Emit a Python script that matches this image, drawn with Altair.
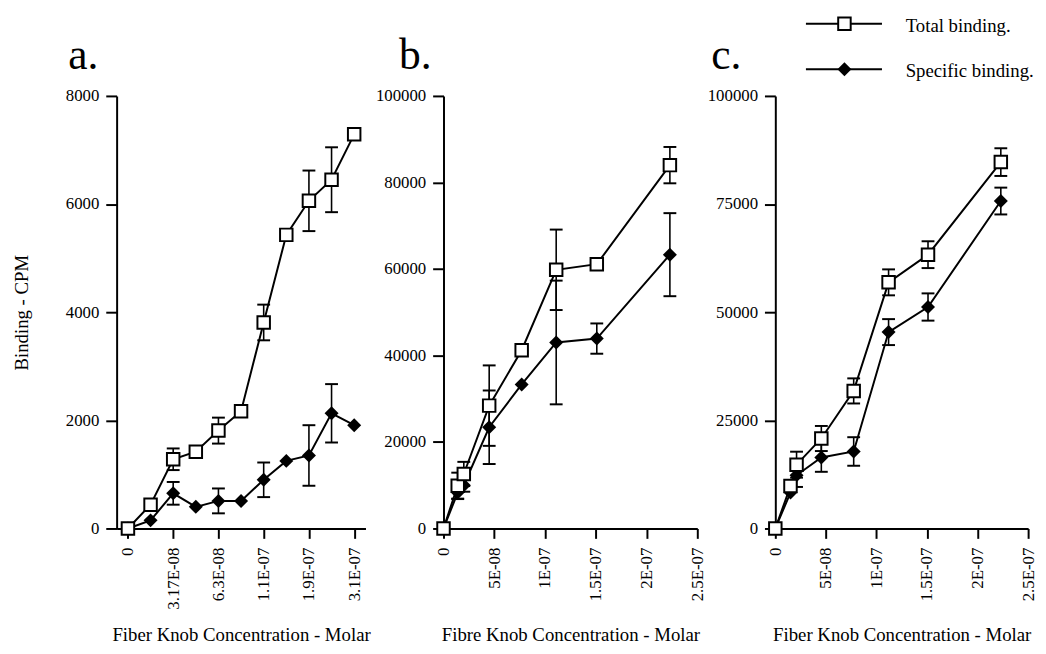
import altair as alt
import pandas as pd

FONT = "Liberation Serif"

# ---------------- data ----------------
series_names = ["Total binding.", "Specific binding."]

# Panel a: categorical concentration steps (every other one labelled)
a_conc = ["0", "1.5E-08", "3.17E-08", "4.7E-08", "6.3E-08", "8.5E-08",
          "1.1E-07", "1.5E-07", "1.9E-07", "2.5E-07", "3.1E-07"]
a_tick_labels = ["0", "3.17E-08", "6.3E-08", "1.1E-07", "1.9E-07", "3.1E-07"]
a_total = [0, 440, 1280, 1420, 1810, 2170, 3810, 5430, 6060, 6450, 7290]
a_total_err = [0, 0, 200, 0, 240, 0, 330, 0, 560, 600, 0]
a_spec = [0, 150, 650, 400, 510, 510, 900, 1250, 1350, 2130, 1910]
a_spec_err = [0, 0, 210, 0, 230, 0, 320, 0, 560, 540, 0]
a_yticks = [0, 2000, 4000, 6000, 8000]

# Panel b
b_conc = [0, 1.4e-8, 2.0e-8, 4.5e-8, 7.7e-8, 1.11e-7, 1.51e-7, 2.23e-7]
b_total = [0, 9900, 12600, 28400, 41200, 59800, 61100, 84000]
b_total_err = [0, 3000, 2800, 9300, 0, 9300, 0, 4200]
b_spec = [0, 8300, 10000, 23400, 33300, 43000, 43900, 63300]
b_spec_err = [0, 1500, 1500, 8500, 0, 14300, 3500, 9600]
b_yticks = [0, 20000, 40000, 60000, 80000, 100000]

# Panel c
c_conc = [0, 1.5e-8, 2.1e-8, 4.55e-8, 7.75e-8, 1.12e-7, 1.51e-7, 2.23e-7]
c_total = [0, 9800, 14750, 20800, 31800, 56900, 63300, 84700]
c_total_err = [0, 0, 3000, 2900, 2900, 3000, 3100, 3200]
c_spec = [0, 8300, 12300, 16400, 17800, 45400, 51200, 75700]
c_spec_err = [0, 0, 2700, 3300, 3300, 3000, 3150, 3100]
c_yticks = [0, 25000, 50000, 75000, 100000]

bc_xticks = [0, 5e-8, 1e-7, 1.5e-7, 2e-7, 2.5e-7]
bc_xlabels = ["0", "5E-08", "1E-07", "1.5E-07", "2E-07", "2.5E-07"]

panel_letters = ["a.", "b.", "c."]
x_titles = ["Fiber Knob Concentration - Molar",
            "Fibre Knob Concentration - Molar",
            "Fiber Knob Concentration - Molar"]
y_title = "Binding - CPM"


def make_df(conc, total, total_err, spec, spec_err):
    rows = []
    for name, vals, errs in ((series_names[0], total, total_err),
                             (series_names[1], spec, spec_err)):
        for i, (x, v, e) in enumerate(zip(conc, vals, errs)):
            rows.append(dict(i=i, x=x, y=v, err=e, lo=v - e, hi=v + e, series=name))
    return pd.DataFrame(rows)


H = 438


def panel(df, x_enc_fn, ydomain, yticks, width, letter, letter_dx, show_ytitle, legend=False):
    yaxis = alt.Axis(values=yticks, format="d", labelFontSize=17, tickSize=11,
                     labelPadding=7, title=y_title if show_ytitle else None,
                     titleFontSize=19, titleX=-96, titleBaseline="middle",
                     labelOverlap=False)
    yscale = alt.Scale(domain=ydomain, nice=False, zero=True)

    def Y(field):
        return alt.Y(field, type="quantitative", scale=yscale, axis=yaxis)

    base = alt.Chart(df)
    errs = base.transform_filter("datum.err > 0")
    line = base.mark_line(color="black", strokeWidth=2).encode(
        x=x_enc_fn(), y=Y("y"), detail="series:N", order="i:Q")
    rules = errs.mark_rule(color="black", strokeWidth=1.6).encode(
        x=x_enc_fn(), y=Y("lo"), y2="hi:Q")
    cap_lo = errs.mark_tick(orient="horizontal", color="black", size=13,
                            thickness=2, opacity=1).encode(x=x_enc_fn(), y=Y("lo"))
    cap_hi = errs.mark_tick(orient="horizontal", color="black", size=13,
                            thickness=2, opacity=1).encode(x=x_enc_fn(), y=Y("hi"))
    diamonds = base.transform_filter(
        alt.datum.series == series_names[1]).mark_point(
        shape="diamond", filled=True, color="black", size=200, opacity=1).encode(
        x=x_enc_fn(), y=Y("y"))
    squares = base.transform_filter(
        alt.datum.series == series_names[0]).mark_point(
        shape="square", filled=True, fill="white", stroke="black", strokeWidth=2,
        size=160, opacity=1).encode(x=x_enc_fn(), y=Y("y"))
    letter_txt = alt.Chart(pd.DataFrame({"t": [letter]})).mark_text(
        font=FONT, fontSize=44, align="left", baseline="alphabetic", color="black").encode(
        text="t:N", x=alt.value(letter_dx), y=alt.value(-27))

    layers = [line, rules, cap_lo, cap_hi, diamonds, squares, letter_txt]

    if legend:
        rows_y = [-73, -27]
        for k, name in enumerate(series_names):
            ldf = pd.DataFrame({"t": [name]})
            lb = alt.Chart(ldf)
            layers.append(lb.mark_rule(color="black", strokeWidth=2).encode(
                x=alt.value(31), x2=alt.value(108), y=alt.value(rows_y[k])))
            if k == 0:
                layers.append(lb.mark_point(shape="square", filled=True, fill="white",
                                            stroke="black", strokeWidth=2, size=160,
                                            opacity=1).encode(
                    x=alt.value(70), y=alt.value(rows_y[k])))
            else:
                layers.append(lb.mark_point(shape="diamond", filled=True, color="black",
                                            size=200, opacity=1).encode(
                    x=alt.value(70), y=alt.value(rows_y[k])))
            layers.append(lb.mark_text(font=FONT, fontSize=19, align="left",
                                       baseline="middle", color="black").encode(
                text="t:N", x=alt.value(132), y=alt.value(rows_y[k] + 2)))

    return alt.layer(*layers).properties(width=width, height=H)


def xaxis(title, **kw):
    return alt.Axis(title=title, labelAngle=-90, labelFontSize=17, tickSize=10,
                    labelPadding=9, titleFontSize=19, titleY=107,
                    titleBaseline="middle", labelOverlap=False, labelFlush=False, **kw)


def a_x():
    return alt.X("x:O", sort=a_conc,
                 scale=alt.Scale(type="point", padding=0.5),
                 axis=xaxis(x_titles[0], values=a_tick_labels))


label_expr = "[" + ",".join("'%s'" % s for s in bc_xlabels) + "][round(datum.value / 5e-8)]"


def bc_x(title):
    def f():
        return alt.X("x:Q", scale=alt.Scale(domain=[0, 2.5e-7], nice=False),
                     axis=xaxis(title, values=bc_xticks, labelExpr=label_expr))
    return f


pa = panel(make_df(a_conc, a_total, a_total_err, a_spec, a_spec_err),
           a_x, [0, 8000], a_yticks, 252, panel_letters[0], -49, True)
pb = panel(make_df(b_conc, b_total, b_total_err, b_spec, b_spec_err),
           bc_x(x_titles[1]), [0, 100000], b_yticks, 257, panel_letters[1], -45, False)
pc = panel(make_df(c_conc, c_total, c_total_err, c_spec, c_spec_err),
           bc_x(x_titles[2]), [0, 100000], c_yticks, 256, panel_letters[2], -65, False,
           legend=True)

chart = alt.hconcat(pa, pb, pc, spacing=79, bounds="flush").properties(
    padding={"left": 5, "top": 1, "right": 2, "bottom": 0}
).configure_axis(
    grid=False, domainColor="black", domainWidth=2, tickColor="black", tickWidth=2,
    labelColor="black", titleColor="black", labelFont=FONT, titleFont=FONT,
    titleFontWeight="normal"
).configure_view(stroke=None)

chart.save("out.html", embed_options={"renderer": "svg", "actions": False})
